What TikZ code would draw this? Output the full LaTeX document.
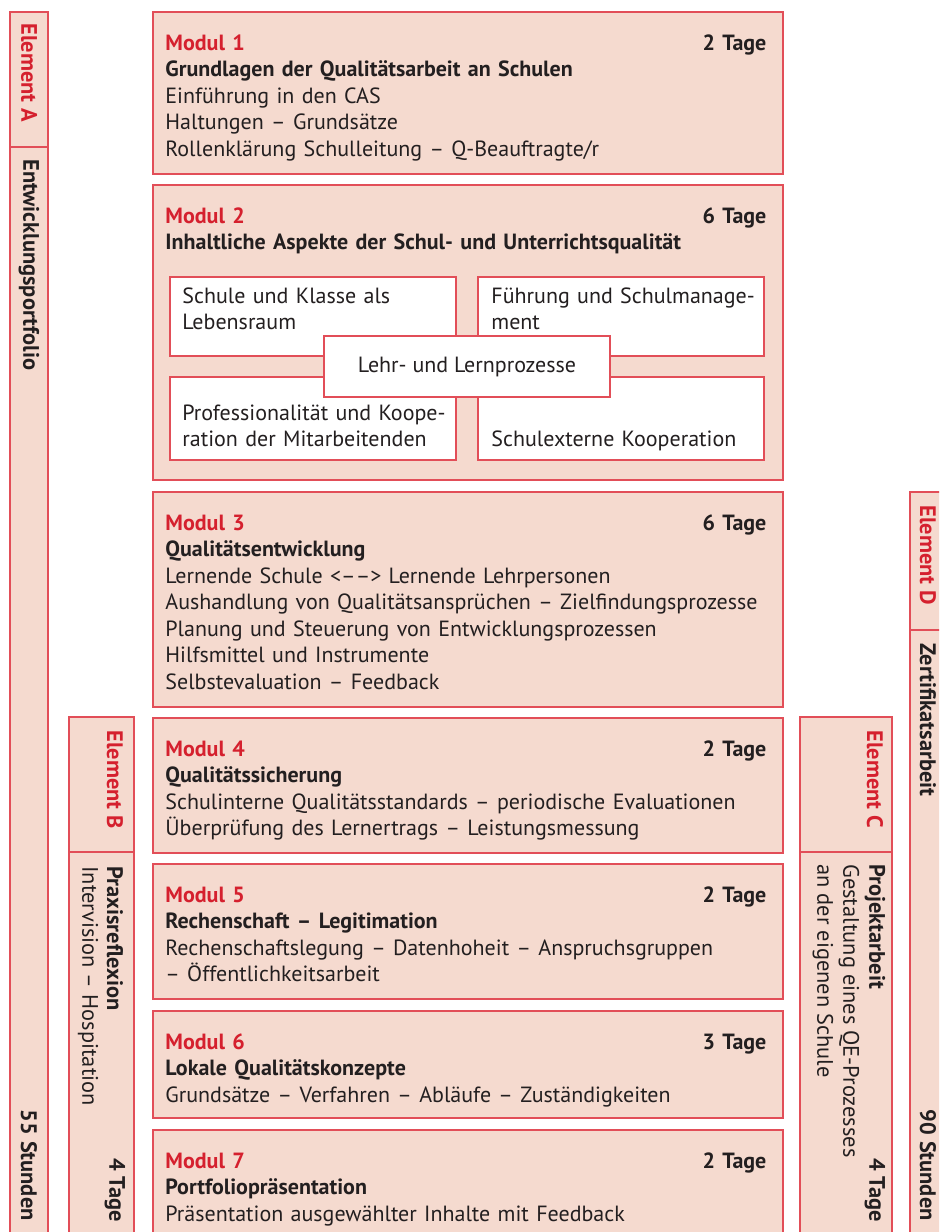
\documentclass[tikz,border=0pt]{standalone}
\usepackage{fontspec}
\setmainfont{PT Sans}
\usetikzlibrary{positioning}

\definecolor{modfill}{RGB}{245,218,207}
\definecolor{modline}{RGB}{226,78,88}
\definecolor{modred}{RGB}{213,32,46}
\definecolor{modtext}{RGB}{35,31,32}

\tikzset{
  modbox/.style={draw=modline, fill=modfill, line width=0.6pt},
  subbox/.style={draw=modline, fill=white, line width=0.6pt},
  modtxt/.style={anchor=base west, inner sep=0pt, text width=300.5pt, align=left,
    text=modtext, font=\fontsize{11}{13.25}\selectfont},
  subtxt/.style={anchor=base west, inner sep=0pt, text width=140pt, align=left,
    text=modtext, font=\fontsize{11}{13.25}\selectfont},
  vtxt/.style={rotate=-90, inner sep=0pt, text=modtext, font=\fontsize{11.2}{13.25}\selectfont},
}
\newcommand{\modhead}[2]{\textcolor{modred}{\bfseries #1}\hfill{\bfseries #2}}

\begin{document}
\begin{tikzpicture}[x=0.5pt, y=-0.5pt]
    \useasboundingbox (0,0) rectangle (939,1232);
    \clip (0,0) rectangle (939,1232);

    % Element A
    \draw[modbox] (10,12) rectangle (48,1250);
    \draw[draw=modline, line width=0.6pt] (10,147) -- (48,147);
    \node[vtxt, anchor=west, text=modred] (elA) at (29,23) {\bfseries Element A};
    \node[vtxt, anchor=west] (portfolio) at (29,159) {\bfseries Entwicklungsportfolio};
    \node[vtxt, anchor=east] (stdA) at (29,1221) {\bfseries 55 Stunden};

    % Element B
    \draw[modbox] (69,717) rectangle (134,1250);
    \draw[draw=modline, line width=0.6pt] (69,852) -- (134,852);
    \node[vtxt, anchor=west, text=modred] (elB) at (115,730) {\bfseries Element B};
    \node[vtxt, anchor=west] (praxis) at (115,866) {\bfseries Praxisreflexion};
    \node[vtxt, anchor=west] (intervision) at (88,866) {Intervision – Hospitation};
    \node[vtxt, anchor=east] (tageB) at (115,1222) {\bfseries 4 Tage};

    % Element C
    \draw[modbox] (800,717) rectangle (892,1250);
    \draw[draw=modline, line width=0.6pt] (800,852) -- (892,852);
    \node[vtxt, anchor=west, text=modred] (elC) at (875,730) {\bfseries Element C};
    \node[vtxt, anchor=west] (projekt) at (875,864) {\bfseries Projektarbeit};
    \node[vtxt, anchor=west] (gestaltung) at (849,864) {Gestaltung eines QE-Prozesses};
    \node[vtxt, anchor=west] (eigene) at (823,864) {an der eigenen Schule};
    \node[vtxt, anchor=east] (tageC) at (875,1222) {\bfseries 4 Tage};

    % Element D
    \draw[modbox] (910,492) rectangle (950,1250);
    \draw[draw=modline, line width=0.6pt] (910,630) -- (950,630);
    \node[vtxt, anchor=west, text=modred] (elD) at (928,505) {\bfseries Element D};
    \node[vtxt, anchor=west] (zertifikat) at (928,643) {\bfseries Zertifikatsarbeit};
    \node[vtxt, anchor=east] (stdD) at (928,1221) {\bfseries 90 Stunden};

    % Module
    \draw[modbox] (153,12) rectangle (783,174);
    \node[modtxt] (m1) at (165,50) {\modhead{Modul 1}{2 Tage}\\
      \textbf{Grundlagen der Qualitätsarbeit an Schulen}\\
      Einführung in den CAS\\
      Haltungen – Grundsätze\\
      Rollenklärung Schulleitung – Q-Beauftragte/r};

    \draw[modbox] (153,185) rectangle (783,480);
    \node[modtxt] (m2) at (165,223) {\modhead{Modul 2}{6 Tage}\\
      \textbf{Inhaltliche Aspekte der Schul- und Unterrichtsqualität}};
    \draw[subbox] (170,277) rectangle (456,356);
    \draw[subbox] (478,277) rectangle (764,356);
    \draw[subbox] (170,377) rectangle (456,460);
    \draw[subbox] (478,377) rectangle (764,460);
    \node[subtxt] (lebensraum) at (182,303) {Schule und Klasse als\\Lebensraum};
    \node[subtxt] (fuehrung) at (491,303) {Führung und Schulmanage-\\ment};
    \node[subtxt] (profi) at (182,420) {Professionalität und Koope-\\ration der Mitarbeitenden};
    \node[subtxt] (extern) at (491,446) {Schulexterne Kooperation};
    \node[subbox, minimum width=143pt, minimum height=30.5pt, text=modtext,
      font=\fontsize{11}{13.25}\selectfont] (lehr) at (467,366.5) {Lehr- und Lernprozesse};

    \draw[modbox] (153,492) rectangle (783,707);
    \node[modtxt] (m3) at (165,530) {\modhead{Modul 3}{6 Tage}\\
      \textbf{Qualitätsentwicklung}\\
      Lernende Schule <––> Lernende Lehrpersonen\\
      \mbox{Aushandlung von Qualitätsansprüchen – Zielfindungsprozesse}\\
      Planung und Steuerung von Entwicklungsprozessen\\
      Hilfsmittel und Instrumente\\
      Selbstevaluation – Feedback};

    \draw[modbox] (153,718) rectangle (783,853);
    \node[modtxt] (m4) at (165,756) {\modhead{Modul 4}{2 Tage}\\
      \textbf{Qualitätssicherung}\\
      Schulinterne Qualitätsstandards – periodische Evaluationen\\
      Überprüfung des Lernertrags – Leistungsmessung};

    \draw[modbox] (153,864) rectangle (783,999);
    \node[modtxt] (m5) at (165,902) {\modhead{Modul 5}{2 Tage}\\
      \textbf{Rechenschaft – Legitimation}\\
      Rechenschaftslegung – Datenhoheit – Anspruchsgruppen\\
      – Öffentlichkeitsarbeit};

    \draw[modbox] (153,1011) rectangle (783,1118);
    \node[modtxt] (m6) at (165,1049) {\modhead{Modul 6}{3 Tage}\\
      \textbf{Lokale Qualitätskonzepte}\\
      Grundsätze – Verfahren – Abläufe – Zuständigkeiten};

    \draw[modbox] (153,1130) rectangle (783,1250);
    \node[modtxt] (m7) at (165,1168) {\modhead{Modul 7}{2 Tage}\\
      \textbf{Portfoliopräsentation}\\
      Präsentation ausgewählter Inhalte mit Feedback};
\end{tikzpicture}
\end{document}
